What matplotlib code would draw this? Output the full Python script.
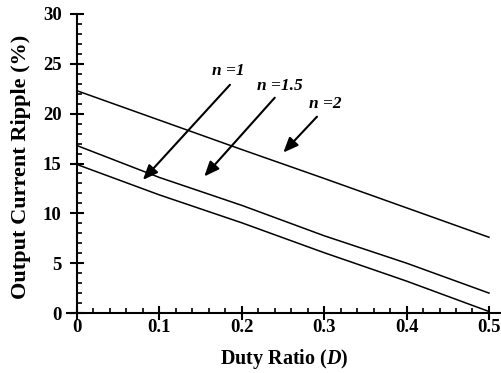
import numpy as np
import matplotlib
matplotlib.use('Agg')
import matplotlib.pyplot as plt
from matplotlib.ticker import MultipleLocator

plt.rcParams['font.family'] = 'Liberation Serif'
plt.rcParams['font.weight'] = 'bold'
plt.rcParams['axes.labelweight'] = 'bold'
plt.rcParams['mathtext.fontset'] = 'custom'
plt.rcParams['mathtext.it'] = 'Liberation Serif:italic:bold'

# duty ratio samples and ripple curves (%)
duty = [0.0, 0.1, 0.2, 0.3, 0.4, 0.5]
ripple_n1 = [14.9, 11.85, 9.05, 6.05, 3.2, 0.15]
ripple_n15 = [16.8, 13.6, 10.8, 7.75, 5.0, 2.0]
ripple_n2 = [22.3, 19.35, 16.4, 13.5, 10.55, 7.6]

labels = ['n =1', 'n =1.5', 'n =2']
label_xy = [(0.1833, 24.3), (0.2464, 22.75), (0.3016, 21.0)]
arrow_tail = [(0.1857, 22.9), (0.2400, 21.6), (0.2913, 19.7)]
arrow_head = [(0.0800, 13.35), (0.1545, 13.7), (0.2504, 16.1)]

fig = plt.figure(figsize=(5.01, 3.73), dpi=100)
ax = fig.add_axes([67/501, 60/373, 434/501, 299/373])

for y in (ripple_n1, ripple_n15, ripple_n2):
    ax.plot(duty, y, color='black', lw=1.1)

for txt, (tx, ty), tail, head in zip(labels, label_xy, arrow_tail, arrow_head):
    ax.text(tx, ty, txt, ha='center', va='center', fontsize=12.5,
            style='italic', fontweight='bold')
    ax.annotate('', xy=head, xytext=tail,
                arrowprops=dict(arrowstyle='-|>,head_length=0.6,head_width=0.25',
                                mutation_scale=15, lw=1.5, color='black',
                                shrinkA=0, shrinkB=0))

ax.set_xlim(-0.0121, 0.5146)
ax.set_ylim(0, 30)
ax.spines['top'].set_visible(False)
ax.spines['right'].set_visible(False)
ax.spines['left'].set_position(('data', 0))
ax.spines['left'].set_linewidth(1.5)
ax.spines['bottom'].set_linewidth(1.5)

ax.xaxis.set_minor_locator(MultipleLocator(0.02))
ax.yaxis.set_major_locator(MultipleLocator(5))
ax.yaxis.set_minor_locator(MultipleLocator(1))
ax.set_xticks([0, 0.1, 0.2, 0.3, 0.4, 0.5])
ax.set_xticklabels(['0', '0.1', '0.2', '0.3', '0.4', '0.5'])
ax.tick_params(which='major', direction='inout', length=10, width=1.5,
               labelsize=13.5)
ax.tick_params(axis='x', which='major', pad=-1)
ax.tick_params(axis='y', which='major', pad=6)
ax.tick_params(which='minor', direction='in', length=3.5, width=1.2)

ax.set_xlabel('Duty Ratio ($\\mathit{D}$)', fontsize=14.5, labelpad=8)
ax.set_ylabel('Output Current Ripple (%)', fontsize=16)
ax.yaxis.set_label_coords((31 - 67) / 434, 0.49)

fig.savefig('out.png', dpi=100)
